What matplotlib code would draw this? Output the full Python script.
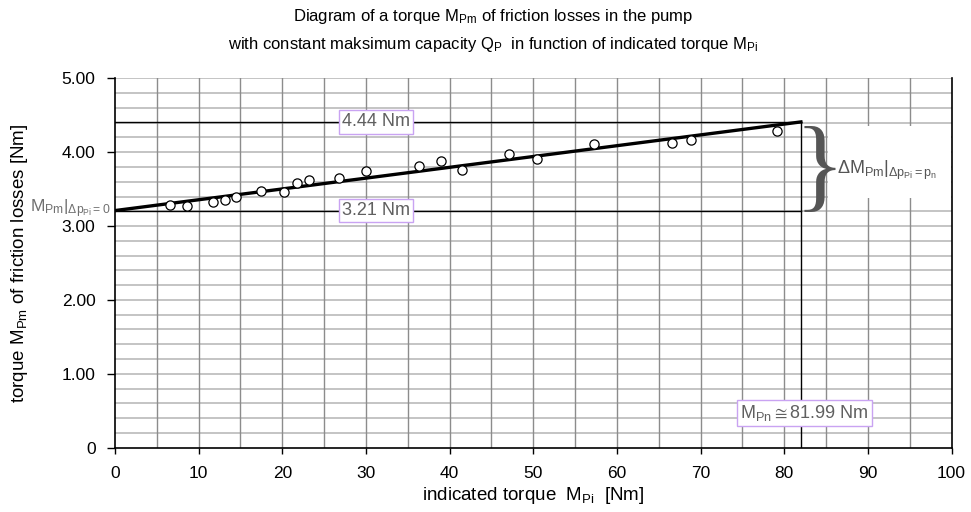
import matplotlib
matplotlib.use("Agg")
import matplotlib.pyplot as plt
import numpy as np
from matplotlib.patches import Rectangle

plt.rcParams['font.family'] = ['Liberation Sans', 'DejaVu Sans']
plt.rcParams['mathtext.fontset'] = 'custom'
plt.rcParams['mathtext.rm'] = 'Liberation Sans'
plt.rcParams['mathtext.it'] = 'Liberation Sans'
plt.rcParams['mathtext.bf'] = 'Liberation Sans:bold'
plt.rcParams['mathtext.default'] = 'regular'
plt.rcParams['mathtext.fallback'] = 'stixsans'

# ---- data ----
m_pi = [6.6, 8.6, 11.7, 13.1, 14.5, 17.5, 20.2, 21.7, 23.2, 26.8,
        30.0, 36.4, 39.0, 41.5, 47.1, 50.5, 57.2, 66.6, 68.8, 79.1]
m_pm = [3.28, 3.27, 3.32, 3.35, 3.40, 3.48, 3.46, 3.58, 3.62, 3.65,
        3.75, 3.82, 3.88, 3.76, 3.97, 3.91, 4.11, 4.13, 4.16, 4.29]
fit_intercept = 3.21
fit_end_value = 4.41
m_pn = 81.99
label_low = "3.21 Nm"
label_high = "4.44 Nm"
x_ticks = [0, 10, 20, 30, 40, 50, 60, 70, 80, 90, 100]
y_ticks = [0, 1, 2, 3, 4, 5]
y_tick_labels = ["0", "1.00", "2.00", "3.00", "4.00", "5.00"]

fig = plt.figure(figsize=(9.71, 5.12), dpi=100)
ax = fig.add_axes([0.1184, 0.1256, 0.8616, 0.7214])
ax.set_xlim(0, 100)
ax.set_ylim(0, 5)

# grid
for xv in np.arange(5, 100, 5):
    ax.axvline(xv, color='#8c8c8c', lw=1.0, zorder=1)
for yv in np.arange(0.2, 5.01, 0.2):
    ax.axhline(yv, color='#c4c4c4', lw=1.4, zorder=0.9)

ax.set_xticks(x_ticks)
ax.set_yticks(y_ticks)
ax.set_yticklabels(y_tick_labels)
ax.tick_params(axis='both', direction='out', width=1, labelsize=12.5, color='black')
ax.tick_params(axis='x', length=4, pad=9)
ax.tick_params(axis='y', length=6, pad=8)
ax.spines['top'].set_visible(False)
for s in ['left', 'bottom', 'right']:
    ax.spines[s].set_color('black')
    ax.spines[s].set_linewidth(1.2)

# reference lines
ax.plot([0, m_pn], [fit_intercept, fit_intercept], color='black', lw=1.0, zorder=2)
ax.plot([0, m_pn], [fit_end_value, fit_end_value], color='black', lw=1.0, zorder=2)
ax.plot([m_pn, m_pn], [0, fit_end_value], color='black', lw=1.0, zorder=2)

# fit line
ax.plot([0, m_pn], [fit_intercept, fit_end_value], color='black', lw=2.4, zorder=3)

# data points
ax.scatter(m_pi, m_pm, s=44, facecolors='white', edgecolors='black', linewidths=0.9, zorder=4)

box = dict(boxstyle='square,pad=0.18', facecolor='white', edgecolor='#c9a3f2', lw=1.0)
tcol = '#606060'
ax.text(31.2, fit_end_value, label_high, ha='center', va='center', fontsize=13,
        color=tcol, bbox=box, zorder=5)
ax.text(31.2, fit_intercept, label_low, ha='center', va='center', fontsize=13,
        color=tcol, bbox=box, zorder=5)
ax.text(82.4, 0.47, r"M$_{Pn}$$\cong$81.99 Nm", ha='center', va='center', fontsize=13,
        color=tcol, bbox=box, zorder=5)

# left label
ax.text(-0.5, 3.23, r"M$_{Pm}$|$_{\Delta p_{Pi}=0}$", ha='right', va='center',
        fontsize=12.5, color='#707070', clip_on=False, zorder=5)

# white patch behind right annotation
ax.add_patch(Rectangle((85.2, 3.38), 14.7, 0.97, facecolor='white', edgecolor='none', zorder=2.5))
# brace
ax.text(84.2, (fit_intercept + fit_end_value) / 2 - 0.085, "}", ha='center', va='center',
        fontsize=75, color='#555555', family='Liberation Serif', zorder=5)
ax.text(86.3, 3.76, r"ΔM$_{Pm}$|$_{\Delta p_{Pi}=p_n}$", ha='left', va='center',
        fontsize=13, color='#555555', zorder=5)

ax.set_xlabel(r"indicated torque  M$_{Pi}$  [Nm]", fontsize=13.5)
ax.set_ylabel(r"torque M$_{Pm}$ of friction losses [Nm]", fontsize=13.5)
ax.xaxis.set_label_coords(0.5, -0.1)
ax.yaxis.set_label_coords(-0.102, 0.5)

fig.text(0.508, 1 - 17 / 512, r"Diagram of a torque M$_{Pm}$ of friction losses in the pump",
         ha='center', va='center', fontsize=12)
fig.text(0.508, 1 - 45 / 512,
         r"with constant maksimum capacity Q$_{P}$  in function of indicated torque M$_{Pi}$",
         ha='center', va='center', fontsize=12)

fig.savefig("out.png", dpi=100)
